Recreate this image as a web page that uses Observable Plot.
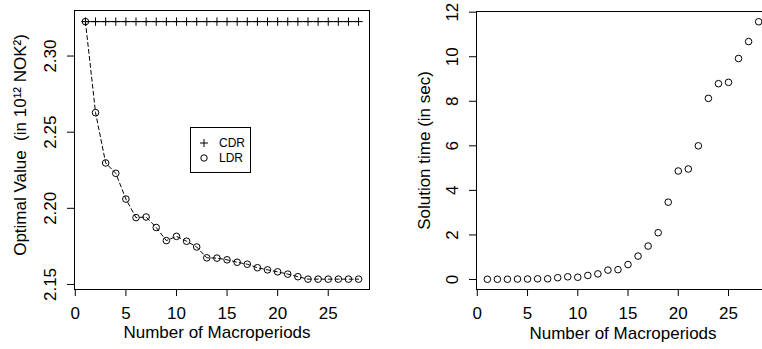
<!DOCTYPE html>
<html>
<head>
<meta charset="utf-8">
<script src="https://cdn.jsdelivr.net/npm/d3@7"></script>
<script src="https://cdn.jsdelivr.net/npm/@observablehq/plot@0.6"></script>
<style>
  html, body { margin: 0; padding: 0; background: #fff; }
  #wrap { position: relative; width: 762px; height: 349px; overflow: hidden; background: #fff;
          font-family: "Liberation Sans", Arial, Helvetica, sans-serif; }
  #left { position: absolute; left: 0; top: 0; width: 381px; height: 349px; }
  #right { position: absolute; left: 381px; top: 0; width: 400px; height: 349px; }
  #left svg, #right svg { max-width: none !important; }
  #legend { position: absolute; left: 190px; top: 127px; width: 61px; height: 46px; box-sizing: border-box;
            border: 1px solid #000; background: #fff; font-size: 12px; color: #000; }
  #legend .row { position: absolute; left: 0; height: 14px; line-height: 14px; }
  #legend svg { position: absolute; left: 7px; top: 1px; }
  #legend span { position: absolute; left: 28px; top: 0; white-space: nowrap; }
</style>
</head>
<body>
<div id="wrap">
  <div id="left"></div>
  <div id="right"></div>
  <div id="legend">
    <div class="row" style="top:8px"><svg width="12" height="12"><path d="M2,6H10M6,2V10" stroke="#000" stroke-width="1" fill="none"/></svg><span>CDR</span></div>
    <div class="row" style="top:23px"><svg width="12" height="12"><circle cx="6" cy="6" r="3.2" stroke="#000" stroke-width="1" fill="none"/></svg><span>LDR</span></div>
  </div>
</div>
<script>
// ---- data ----
const macroperiods = [1,2,3,4,5,6,7,8,9,10,11,12,13,14,15,16,17,18,19,20,21,22,23,24,25,26,27,28];
const cdrValue = [2.3226,2.3226,2.3226,2.3226,2.3226,2.3226,2.3226,2.3226,2.3226,2.3226,2.3226,2.3226,2.3226,2.3226,
                  2.3226,2.3226,2.3226,2.3226,2.3226,2.3226,2.3226,2.3226,2.3226,2.3226,2.3226,2.3226,2.3226,2.3226];
const ldrValue = [2.3226,2.2628,2.2298,2.2230,2.2061,2.1939,2.1943,2.1874,2.1788,2.1816,2.1784,2.1746,2.1675,2.1673,
                  2.1662,2.1646,2.1633,2.1610,2.1596,2.1583,2.1568,2.1551,2.1535,2.1535,2.1535,2.1535,2.1535,2.1535];
const solutionTime = [0.01,0.01,0.01,0.02,0.02,0.03,0.03,0.08,0.12,0.10,0.18,0.25,0.42,0.44,
                      0.67,1.05,1.50,2.10,3.47,4.87,4.96,6.00,8.13,8.79,8.85,9.92,10.68,11.57];
const xTicks = [0,5,10,15,20,25];
const leftYTicks = [2.15,2.20,2.25,2.30];
const rightYTicks = [0,2,4,6,8,10,12];
const xLabel = "Number of Macroperiods";
const leftYLabel = "Optimal Value  (in 10\u00B9\u00B2 NOK\u00B2)";
const rightYLabel = "Solution time (in sec)";

const cdr = macroperiods.map((m, i) => ({m, v: cdrValue[i]}));
const ldr = macroperiods.map((m, i) => ({m, v: ldrValue[i]}));
const st = macroperiods.map((m, i) => ({m, v: solutionTime[i]}));

const plusSymbol = {
  draw(ctx, size) {
    const r = Math.sqrt(size / Math.PI);
    ctx.moveTo(-r, 0); ctx.lineTo(r, 0);
    ctx.moveTo(0, -r); ctx.lineTo(0, r);
  }
};

const style = {fontFamily: '"Liberation Sans", Arial, Helvetica, sans-serif', fontSize: "17px", color: "#000",
               background: "#fff", overflow: "visible", maxWidth: "none"};

const left = Plot.plot({
  width: 381, height: 349,
  marginLeft: 74, marginRight: 12, marginTop: 10, marginBottom: 60,
  style,
  x: {domain: [-0.08, 29.08]},
  y: {domain: [2.1467, 2.3299]},
  marks: [
    Plot.frame({stroke: "#000", strokeWidth: 1}),
    Plot.axisX({ticks: xTicks, tickSize: 7, tickPadding: 10, label: null}),
    Plot.axisY({ticks: leftYTicks, tickFormat: d => d.toFixed(2), tickSize: 7, tickPadding: 12, tickRotate: -90, label: null}),
    Plot.line(cdr, {x: "m", y: "v", stroke: "#000", strokeWidth: 1}),
    Plot.line(ldr, {x: "m", y: "v", stroke: "#000", strokeWidth: 1, strokeDasharray: "4,3"}),
    Plot.dot(cdr, {x: "m", y: "v", symbol: plusSymbol, r: 4.2, stroke: "#000", fill: "none", strokeWidth: 1}),
    Plot.dot(ldr, {x: "m", y: "v", r: 3.3, stroke: "#000", fill: "none", strokeWidth: 1}),
    Plot.text([xLabel], {frameAnchor: "bottom", dx: -5, dy: 43, lineAnchor: "middle", textAnchor: "middle", fill: "#000"}),
    Plot.text([leftYLabel], {frameAnchor: "left", dx: -54, dy: -5, rotate: -90, lineAnchor: "middle", textAnchor: "middle", fill: "#000"})
  ]
});
document.getElementById("left").appendChild(left);

const right = Plot.plot({
  width: 400, height: 349,
  marginLeft: 95, marginRight: 12, marginTop: 11, marginBottom: 60,
  style,
  x: {domain: [-0.08, 29.08]},
  y: {domain: [-0.45, 12.03]},
  marks: [
    Plot.frame({stroke: "#000", strokeWidth: 1}),
    Plot.axisX({ticks: xTicks, tickSize: 7, tickPadding: 10, label: null}),
    Plot.axisY({ticks: rightYTicks, tickSize: 7, tickPadding: 12, tickRotate: -90, label: null}),
    Plot.dot(st, {x: "m", y: "v", r: 3.3, stroke: "#000", fill: "none", strokeWidth: 1}),
    Plot.text([xLabel], {frameAnchor: "bottom", dy: 44, lineAnchor: "middle", textAnchor: "middle", fill: "#000"}),
    Plot.text([rightYLabel], {frameAnchor: "left", dx: -52, rotate: -90, lineAnchor: "middle", textAnchor: "middle", fill: "#000"})
  ]
});
document.getElementById("right").appendChild(right);
</script>
</body>
</html>
